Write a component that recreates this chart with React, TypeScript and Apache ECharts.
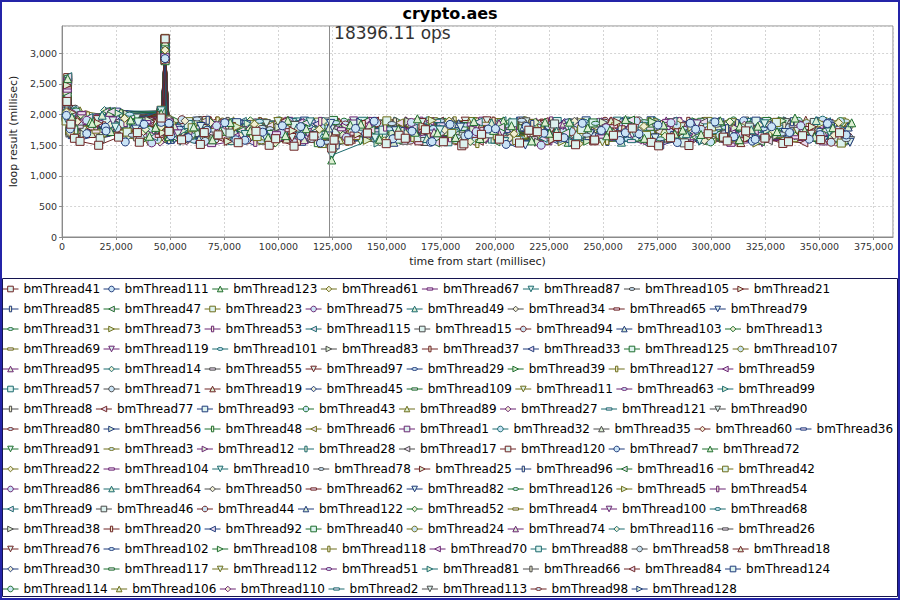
import React, { useEffect, useRef } from 'react';
import * as echarts from 'echarts';

// legend order of the 128 benchmark threads
const THREAD_IDS = [
  41, 111, 123, 61, 67, 87, 105, 21,
  85, 47, 23, 75, 49, 34, 65, 79,
  31, 73, 53, 115, 15, 94, 103, 13,
  69, 119, 101, 83, 37, 33, 125, 107,
  95, 14, 55, 97, 29, 39, 127, 59,
  57, 71, 19, 45, 109, 11, 63, 99,
  8, 77, 93, 43, 89, 27, 121, 90,
  80, 56, 48, 6, 1, 32, 35, 60, 36,
  91, 3, 12, 28, 17, 120, 7, 72,
  22, 104, 10, 78, 25, 96, 16, 42,
  86, 64, 50, 62, 82, 126, 5, 54,
  9, 46, 44, 122, 52, 4, 100, 68,
  38, 20, 92, 40, 24, 74, 116, 26,
  76, 102, 108, 118, 70, 88, 58, 18,
  30, 117, 112, 51, 81, 66, 84, 124,
  114, 106, 110, 2, 113, 98, 128,
];
const THREAD_NAMES = THREAD_IDS.map((n) => 'bmThread' + n);
// number of legend entries on each legend line
const LEGEND_ROW_SIZES = [8, 8, 8, 8, 8, 8, 8, 9, 8, 8, 8, 8, 8, 8, 8, 7];

// first loop of every thread (ms); it ends at the same time from start
const FIRST_LOOP_MS = [
  2214, 1986, 2587, 2043, 2391, 1932, 2156, 2478,
  2071, 2302, 1895, 2535, 2118, 1964, 2426, 2249,
  2015, 2362, 1917, 2619, 2187, 2093, 2448, 1971,
  2276, 2134, 2501, 1948, 2327, 2059, 2405, 2172,
  1903, 2559, 2226, 2011, 2383, 1957, 2290, 2104,
  2463, 2038, 2341, 1924, 2198, 2574, 2082, 2256,
  1979, 2419, 2145, 2027, 2312, 1941, 2493, 2163,
  2237, 2066, 2371, 1912, 2529, 2121, 2284, 1996, 2432,
  2178, 2050, 2397, 1938, 2265, 2603, 2089, 2334,
  1966, 2208, 2457, 2032, 2351, 1919, 2152, 2516,
  2243, 2004, 2378, 2127, 1952, 2298, 2470, 2076,
  2191, 2412, 1929, 2322, 2061, 2545, 2137, 2270,
  1991, 2364, 2113, 2441, 2020, 2231, 1908, 2386,
  2167, 2593, 2055, 2307, 1974, 2219, 2485, 2098,
  2345, 1945, 2254, 2110, 2420, 2036, 2566, 2183,
  2009, 2356, 2142, 2510, 1960, 2281, 2074,
];
// second loop (ms); it ends at first + second
const SECOND_LOOP_MS = [
  1842, 1765, 1958, 1703, 1884, 1921, 1676, 2034,
  1797, 1869, 1732, 2011, 1815, 1748, 1937, 1862,
  1689, 1905, 1774, 2068, 1826, 1711, 1953, 1788,
  1877, 1740, 1994, 1695, 1851, 1807, 1926, 1759,
  1728, 2042, 1833, 1681, 1912, 1770, 1866, 1803,
  1975, 1719, 1888, 1745, 1821, 2051, 1762, 1896,
  1707, 1931, 1794, 1836, 1858, 1684, 1999, 1812,
  1873, 1726, 1942, 1698, 2016, 1781, 1849, 1735, 1906,
  1823, 1757, 1964, 1692, 1880, 2083, 1776, 1917,
  1714, 1855, 1982, 1746, 1901, 1672, 1829, 2025,
  1864, 1738, 1947, 1791, 1701, 1893, 1968, 1753,
  1817, 1934, 1687, 1871, 1799, 2058, 1768, 1909,
  1743, 1925, 1786, 1988, 1722, 1846, 1679, 1916,
  1808, 2037, 1751, 1884, 1716, 1839, 1973, 1783,
  1898, 1698, 1862, 1806, 1951, 1737, 2046, 1820,
  1729, 1913, 1795, 2003, 1708, 1887, 1766,
];

// loop results around the pause near 47 s
const PRE_SPIKE_T = 45800;
const SPIKE_T = 47600;
const POST_SPIKE_T = 49400;
const PRE_SPIKE_MS = [
  1943, 1872, 2016, 1798, 1925, 2061, 1836, 1987,
  1904, 2033, 1857, 1961, 1819, 2008, 1889, 1948,
  2075, 1843, 1916, 1979, 1862, 2041, 1808, 1934,
  1998, 1881, 2052, 1827, 1957, 1895, 2024, 1868,
  1939, 1813, 2069, 1902, 1971, 1851, 2019, 1886,
  1825, 1994, 1877, 2047, 1909, 1841, 1966, 2030,
  1859, 1982, 1921, 1805, 2058, 1893, 1950, 1834,
  2011, 1874, 1945, 1816, 2038, 1898, 1962, 1847, 2003,
  1929, 1866, 2064, 1831, 1976, 1911, 2026, 1853,
  1990, 1822, 1952, 2044, 1879, 1936, 1810, 2071,
  1906, 1983, 1846, 2013, 1869, 1958, 1829, 2036,
  1892, 1969, 1838, 2055, 1915, 1864, 2000, 1802,
  1947, 1885, 2029, 1855, 1973, 1821, 2049, 1897,
  1932, 1861, 2021, 1817, 1985, 1908, 2066, 1848,
  1955, 1875, 1992, 1833, 2040, 1918, 1866, 1977,
  1826, 2006, 1883, 1964, 1844, 2057, 1913,
];
const SPIKE_MS = [
  3236, 2914, 3187, 3052, 2968, 3211, 3119, 2887,
  3165, 3008, 3244, 2941, 3097, 3180, 2872, 3129,
  3018, 3203, 2956, 3141, 3226, 2903, 3074, 3190,
  2935, 3158, 3112, 2989, 3221, 3046, 2879, 3173,
  3102, 2927, 3198, 3061, 3149, 2994, 3230, 2918,
  3084, 3215, 2961, 3136, 3027, 3182, 2896, 3155,
  3209, 2947, 3091, 3168, 2982, 3241, 3069, 2910,
  3194, 3036, 3127, 2953, 3218, 3079, 2891, 3162, 3013,
  3177, 2930, 3106, 3224, 2975, 3147, 3058, 3201,
  2922, 3132, 3185, 3003, 3233, 2944, 3093, 3170,
  3021, 3206, 2967, 3116, 3192, 2908, 3151, 3040,
  3228, 2979, 3088, 3175, 2937, 3139, 3212, 3065,
  2999, 3183, 3124, 2952, 3207, 3033, 3160, 2916,
  3098, 3219, 2972, 3145, 3049, 3196, 2925, 3178,
  3134, 2985, 3213, 3071, 2943, 3166, 3019, 3238,
  2958, 3121, 3189, 3044, 3204, 2899, 3152,
];
const POST_SPIKE_MS = [
  1724, 1856, 1639, 1781, 1902, 1668, 1815, 1747,
  1591, 1869, 1706, 1833, 1652, 1918, 1759, 1685,
  1840, 1612, 1793, 1727, 1881, 1645, 1770, 1896,
  1703, 1829, 1578, 1862, 1736, 1811, 1663, 1921,
  1787, 1694, 1849, 1621, 1764, 1888, 1717, 1806,
  1659, 1874, 1741, 1598, 1822, 1699, 1908, 1776,
  1633, 1851, 1714, 1893, 1680, 1798, 1606, 1843,
  1752, 1627, 1886, 1710, 1825, 1674, 1915, 1733, 1800,
  1690, 1867, 1617, 1784, 1838, 1729, 1655, 1897,
  1762, 1641, 1818, 1700, 1876, 1589, 1808, 1745,
  1861, 1676, 1790, 1911, 1624, 1835, 1718, 1857,
  1668, 1796, 1885, 1739, 1603, 1827, 1755, 1890,
  1711, 1847, 1636, 1773, 1904, 1687, 1819, 1658,
  1879, 1743, 1610, 1864, 1697, 1786, 1923, 1648,
  1816, 1721, 1853, 1595, 1780, 1900, 1663, 1834,
  1769, 1629, 1872, 1707, 1841, 1684, 1802,
];

// sampled steady-state loops: time = GRID_MS[k] + PHASE_MS[thread]
const GRID_MS = [5000, 35000, 65000, 95000, 125000, 155000, 185000, 215000, 245000, 275000, 305000, 335000];
const PHASE_MS = [
  700, 15300, 8200, 23900, 4100, 19600, 27400, 11800,
  2300, 17700, 25100, 6400, 13500, 21800, 9900, 29100,
  1500, 16100, 24300, 7300, 12600, 20400, 28300, 3600,
  10700, 18500, 26200, 5200, 14400, 22700, 400, 9100,
  16900, 25800, 2900, 11300, 19100, 27900, 6900, 14900,
  23300, 1100, 8700, 17300, 26700, 4700, 12200, 21000,
  28800, 7800, 15700, 24700, 3300, 10300, 18100, 29400,
  5600, 13100, 22300, 900, 9500, 16500, 25500, 2000, 20100,
  12900, 27100, 6000, 14000, 21400, 1800, 10000, 18900,
  26000, 4400, 11600, 19900, 28000, 7000, 15500, 23500,
  3000, 13300, 20800, 8500, 17000, 24000, 500, 11000,
  18300, 27700, 5900, 15000, 22000, 2600, 9700, 16300,
  25300, 6700, 12400, 20600, 29000, 4200, 14600, 23100,
  1300, 10500, 17900, 26400, 7500, 13800, 21600, 3800,
  28600, 8900, 16700, 24500, 200, 11500, 19400, 27200,
  5300, 14200, 22500, 1600, 10900, 18700, 26900,
];
const BAND_MS = [
  [1612, 1548, 1705, 1498, 1583, 1662, 1521, 1744, 1570, 1489, 1631, 1556],
  [1731, 1652, 1588, 1803, 1690, 1547, 1768, 1615, 1702, 1859, 1594, 1672],
  [1884, 1790, 1725, 1656, 1832, 1711, 1609, 1877, 1748, 1683, 1812, 1739],
  [1937, 1618, 1842, 1759, 1571, 1895, 1686, 1523, 1806, 1647, 1723, 1868],
  [2021, 1875, 1502, 1694, 1760, 1585, 1837, 1712, 1640, 1781, 1507, 1628],
  [1794, 1563, 1673, 1880, 1615, 1746, 1558, 1808, 1697, 1572, 1849, 1715],
  [1663, 1928, 1789, 1547, 1852, 1638, 1906, 1664, 1529, 1826, 1683, 1591],
  [1856, 1701, 1561, 1735, 1679, 1813, 1745, 1590, 1874, 1716, 1612, 1799],
  [1574, 1846, 1907, 1611, 1504, 1724, 1681, 1838, 1621, 1507, 1768, 1883],
  [2048, 1612, 1739, 1866, 1746, 1536, 1794, 1702, 1911, 1629, 1556, 1745],
  [1713, 1784, 1640, 1526, 1897, 1692, 1577, 1756, 1660, 1798, 1871, 1534],
  [1906, 1537, 1818, 1693, 1628, 1871, 1721, 1499, 1785, 1866, 1640, 1817],
  [1989, 1721, 1574, 1782, 1810, 1608, 1863, 1727, 1549, 1688, 1752, 1903],
  [1648, 1897, 1762, 1629, 1551, 1749, 1617, 1891, 1730, 1575, 1824, 1661],
  [1825, 1653, 1897, 1744, 1688, 1531, 1766, 1644, 1808, 1741, 1595, 1778],
  [1762, 1805, 1619, 1855, 1735, 1794, 1502, 1684, 1617, 1864, 1706, 1546],
  [2073, 1575, 1706, 1598, 1868, 1663, 1829, 1771, 1856, 1602, 1789, 1689],
  [1694, 1862, 1801, 1716, 1578, 1904, 1648, 1555, 1702, 1793, 1534, 1855],
  [1869, 1743, 1546, 1888, 1795, 1621, 1732, 1817, 1583, 1679, 1872, 1612],
  [1951, 1638, 1851, 1672, 1636, 1779, 1877, 1612, 1760, 1894, 1668, 1735],
  [1607, 1781, 1697, 1822, 1715, 1560, 1685, 1846, 1654, 1537, 1795, 1871],
  [1778, 1916, 1583, 1609, 1866, 1725, 1593, 1722, 1895, 1757, 1623, 1548],
  [1843, 1596, 1768, 1781, 1547, 1852, 1799, 1656, 1592, 1816, 1716, 1797],
  [1996, 1760, 1869, 1538, 1753, 1689, 1559, 1873, 1735, 1646, 1880, 1653],
  [1722, 1829, 1631, 1862, 1619, 1804, 1848, 1600, 1839, 1585, 1755, 1829],
  [1895, 1683, 1741, 1702, 1887, 1573, 1711, 1790, 1678, 1847, 1539, 1712],
  [2005, 1566, 1889, 1645, 1766, 1736, 1620, 1888, 1518, 1719, 1801, 1588],
  [1681, 1907, 1612, 1793, 1682, 1888, 1765, 1548, 1874, 1608, 1669, 1874],
  [1815, 1724, 1805, 1567, 1837, 1646, 1891, 1695, 1751, 1889, 1745, 1636],
  [1933, 1648, 1546, 1846, 1564, 1770, 1538, 1827, 1627, 1764, 1856, 1765],
  [1748, 1879, 1725, 1675, 1904, 1598, 1806, 1743, 1863, 1531, 1621, 1694],
  [1869, 1593, 1878, 1753, 1711, 1855, 1667, 1575, 1699, 1829, 1782, 1852],
  [2036, 1812, 1598, 1590, 1829, 1710, 1851, 1859, 1793, 1654, 1578, 1569],
  [1659, 1755, 1834, 1892, 1592, 1819, 1574, 1685, 1547, 1883, 1704, 1734],
  [1801, 1921, 1689, 1722, 1784, 1541, 1735, 1612, 1825, 1579, 1854, 1817],
  [1917, 1634, 1802, 1625, 1656, 1869, 1897, 1769, 1669, 1801, 1627, 1681],
  [1766, 1776, 1557, 1804, 1871, 1671, 1602, 1896, 1716, 1694, 1766, 1893],
  [1888, 1869, 1743, 1549, 1703, 1797, 1781, 1564, 1883, 1746, 1898, 1559],
  [1978, 1557, 1894, 1783, 1562, 1627, 1526, 1731, 1574, 1866, 1587, 1762],
  [1710, 1708, 1636, 1869, 1810, 1888, 1740, 1822, 1742, 1614, 1733, 1830],
  [1850, 1838, 1780, 1656, 1745, 1555, 1864, 1653, 1806, 1782, 1812, 1628],
  [2087, 1621, 1562, 1738, 1893, 1740, 1649, 1790, 1638, 1538, 1674, 1786],
  [1690, 1891, 1874, 1601, 1597, 1812, 1813, 1581, 1897, 1829, 1542, 1907],
  [1832, 1686, 1663, 1828, 1676, 1590, 1709, 1872, 1681, 1703, 1828, 1697],
  [1958, 1790, 1815, 1701, 1849, 1701, 1578, 1700, 1769, 1889, 1715, 1577],
  [1744, 1562, 1707, 1885, 1641, 1858, 1887, 1646, 1553, 1612, 1867, 1742],
  [1876, 1854, 1593, 1572, 1808, 1631, 1756, 1851, 1847, 1776, 1595, 1864],
  [2018, 1735, 1849, 1776, 1535, 1767, 1632, 1543, 1716, 1570, 1741, 1651],
  [1635, 1903, 1755, 1658, 1879, 1565, 1844, 1765, 1594, 1855, 1805, 1799],
  [1787, 1629, 1621, 1897, 1713, 1896, 1564, 1885, 1790, 1681, 1639, 1536],
  [1910, 1796, 1867, 1563, 1655, 1681, 1795, 1612, 1868, 1819, 1892, 1709],
  [1827, 1668, 1739, 1797, 1866, 1833, 1697, 1726, 1650, 1553, 1753, 1886],
  [2061, 1883, 1587, 1704, 1588, 1609, 1869, 1857, 1739, 1739, 1604, 1622],
  [1703, 1549, 1823, 1856, 1764, 1773, 1603, 1579, 1823, 1896, 1826, 1793],
  [1858, 1812, 1694, 1629, 1827, 1896, 1741, 1804, 1567, 1623, 1678, 1841],
  [1942, 1706, 1852, 1764, 1603, 1646, 1881, 1682, 1787, 1772, 1868, 1573],
  [1778, 1893, 1571, 1893, 1718, 1549, 1659, 1873, 1891, 1660, 1532, 1735],
  [1895, 1591, 1781, 1676, 1874, 1806, 1825, 1625, 1691, 1843, 1790, 1869],
  [2012, 1770, 1648, 1541, 1695, 1722, 1567, 1752, 1640, 1580, 1702, 1604],
  [1668, 1877, 1898, 1817, 1583, 1865, 1785, 1839, 1806, 1719, 1853, 1822],
  [1812, 1615, 1720, 1731, 1845, 1593, 1891, 1571, 1740, 1884, 1629, 1688],
  [1925, 1748, 1586, 1858, 1772, 1757, 1690, 1716, 1893, 1628, 1764, 1908],
  [1741, 1857, 1811, 1589, 1626, 1887, 1557, 1868, 1585, 1769, 1884, 1563],
  [1883, 1702, 1673, 1720, 1893, 1643, 1803, 1697, 1754, 1837, 1585, 1774],
  [2079, 1833, 1874, 1885, 1743, 1838, 1731, 1569, 1866, 1565, 1699, 1840],
  [1697, 1628, 1742, 1672, 1569, 1776, 1851, 1801, 1627, 1702, 1817, 1615],
  [1840, 1889, 1556, 1796, 1835, 1560, 1625, 1853, 1713, 1855, 1656, 1895],
  [1963, 1675, 1825, 1601, 1796, 1707, 1877, 1630, 1880, 1631, 1784, 1711],
  [1759, 1818, 1781, 1838, 1611, 1895, 1599, 1773, 1557, 1793, 1858, 1590],
  [1901, 1595, 1633, 1755, 1850, 1787, 1769, 1888, 1820, 1877, 1573, 1760],
  [2029, 1746, 1903, 1542, 1734, 1658, 1837, 1703, 1688, 1676, 1729, 1834],
  [1726, 1911, 1692, 1887, 1651, 1876, 1661, 1816, 1779, 1552, 1897, 1651],
  [1871, 1660, 1796, 1715, 1884, 1611, 1897, 1547, 1857, 1824, 1642, 1783],
  [1985, 1802, 1574, 1825, 1770, 1824, 1588, 1877, 1596, 1747, 1800, 1866],
  [1716, 1869, 1859, 1624, 1676, 1740, 1812, 1733, 1734, 1895, 1717, 1602],
  [1851, 1613, 1728, 1868, 1824, 1575, 1728, 1648, 1892, 1617, 1871, 1745],
  [1947, 1785, 1645, 1766, 1581, 1899, 1658, 1897, 1679, 1786, 1577, 1883],
  [1792, 1853, 1889, 1560, 1867, 1684, 1882, 1601, 1809, 1866, 1760, 1676],
  [1904, 1586, 1767, 1806, 1712, 1802, 1775, 1791, 1561, 1659, 1851, 1799],
  [2054, 1722, 1616, 1693, 1893, 1626, 1554, 1721, 1840, 1738, 1629, 1567],
  [1680, 1884, 1835, 1877, 1638, 1849, 1843, 1864, 1717, 1888, 1826, 1832],
  [1829, 1639, 1703, 1588, 1778, 1721, 1637, 1575, 1873, 1575, 1695, 1720],
  [1970, 1827, 1877, 1741, 1853, 1597, 1862, 1838, 1626, 1817, 1886, 1888],
  [1767, 1719, 1604, 1845, 1590, 1883, 1704, 1689, 1782, 1682, 1737, 1640],
  [1890, 1895, 1786, 1658, 1812, 1753, 1811, 1883, 1848, 1859, 1593, 1810],
  [2040, 1604, 1843, 1893, 1719, 1634, 1593, 1611, 1691, 1725, 1864, 1576],
  [1732, 1778, 1669, 1570, 1885, 1867, 1869, 1815, 1883, 1601, 1772, 1871],
  [1866, 1871, 1816, 1786, 1647, 1680, 1739, 1666, 1587, 1849, 1611, 1757],
  [1938, 1651, 1729, 1833, 1763, 1892, 1627, 1896, 1764, 1797, 1849, 1693],
  [1775, 1823, 1888, 1612, 1893, 1612, 1899, 1570, 1852, 1632, 1706, 1882],
  [1921, 1707, 1580, 1879, 1598, 1773, 1806, 1757, 1619, 1870, 1879, 1582],
  [1995, 1888, 1855, 1726, 1829, 1851, 1567, 1848, 1890, 1713, 1640, 1829],
  [1706, 1594, 1711, 1871, 1732, 1665, 1749, 1629, 1725, 1888, 1790, 1739],
  [1848, 1857, 1899, 1593, 1855, 1880, 1883, 1781, 1799, 1570, 1862, 1637],
  [1966, 1741, 1627, 1812, 1668, 1599, 1651, 1893, 1657, 1809, 1605, 1897],
  [1754, 1890, 1763, 1889, 1896, 1828, 1834, 1613, 1878, 1687, 1767, 1778],
  [1885, 1636, 1850, 1660, 1606, 1721, 1715, 1838, 1598, 1891, 1890, 1613],
  [2008, 1813, 1678, 1755, 1881, 1885, 1597, 1703, 1810, 1624, 1657, 1864],
  [1693, 1869, 1894, 1877, 1629, 1612, 1881, 1861, 1742, 1837, 1843, 1702],
  [1837, 1582, 1613, 1623, 1808, 1797, 1761, 1583, 1886, 1752, 1720, 1893],
  [1953, 1868, 1795, 1862, 1701, 1870, 1628, 1824, 1633, 1874, 1887, 1667],
  [1779, 1717, 1869, 1709, 1875, 1655, 1898, 1665, 1869, 1661, 1597, 1826],
  [1902, 1901, 1645, 1897, 1593, 1894, 1742, 1880, 1713, 1896, 1832, 1728],
  [2066, 1629, 1777, 1588, 1846, 1588, 1866, 1734, 1899, 1595, 1755, 1895],
  [1725, 1846, 1898, 1818, 1738, 1806, 1670, 1619, 1771, 1863, 1880, 1618],
  [1860, 1784, 1580, 1686, 1872, 1753, 1892, 1856, 1611, 1716, 1646, 1853],
  [1977, 1611, 1838, 1895, 1612, 1867, 1616, 1896, 1855, 1791, 1899, 1791],
  [1789, 1898, 1707, 1630, 1897, 1641, 1853, 1598, 1692, 1883, 1677, 1695],
  [1912, 1733, 1885, 1868, 1783, 1897, 1784, 1779, 1884, 1602, 1859, 1880],
  [1744, 1879, 1640, 1731, 1620, 1634, 1886, 1645, 1638, 1839, 1786, 1605],
  [1889, 1646, 1854, 1880, 1890, 1876, 1599, 1887, 1773, 1749, 1616, 1866],
  [2032, 1823, 1734, 1605, 1667, 1764, 1818, 1702, 1897, 1881, 1891, 1748],
  [1719, 1892, 1898, 1846, 1851, 1899, 1722, 1864, 1614, 1675, 1724, 1890],
  [1852, 1700, 1600, 1779, 1631, 1602, 1897, 1610, 1869, 1891, 1868, 1647],
  [1961, 1869, 1881, 1897, 1897, 1822, 1657, 1889, 1742, 1623, 1599, 1829],
  [1738, 1615, 1767, 1650, 1761, 1884, 1869, 1762, 1889, 1859, 1880, 1883],
  [1878, 1891, 1893, 1893, 1610, 1668, 1795, 1633, 1628, 1728, 1807, 1612],
  [2000, 1762, 1627, 1819, 1888, 1895, 1633, 1898, 1874, 1897, 1646, 1898],
  [1701, 1855, 1888, 1611, 1808, 1703, 1888, 1806, 1809, 1652, 1894, 1727],
  [1846, 1673, 1795, 1881, 1895, 1893, 1740, 1658, 1656, 1889, 1766, 1859],
  [1936, 1893, 1861, 1708, 1644, 1637, 1894, 1897, 1898, 1775, 1830, 1633],
  [1763, 1743, 1601, 1897, 1876, 1862, 1681, 1737, 1749, 1870, 1896, 1890],
  [1899, 1886, 1898, 1750, 1722, 1899, 1899, 1884, 1890, 1614, 1715, 1782],
  [1822, 1569, 1742, 1596, 1851, 1779, 1663, 1829, 1581, 1706, 1874, 1548],
  [1967, 1706, 1824, 1863, 1598, 1650, 1822, 1547, 1762, 1835, 1628, 1795],
  [1694, 1848, 1561, 1727, 1784, 1868, 1587, 1760, 1843, 1573, 1752, 1684],
  [1880, 1597, 1813, 1672, 1905, 1540, 1736, 1885, 1617, 1808, 1590, 1851],
  [2003, 1781, 1659, 1887, 1631, 1752, 1893, 1640, 1723, 1877, 1706, 1574],
];

// extra loops of the three threads drawn on top
const TOP_DETAIL_T = [
  8300, 16900, 26100, 34800, 55200, 63900, 72100, 81400, 89600, 98700,
  107200, 116300, 132500, 141100, 149800, 158600, 167900, 176200, 184700, 193800,
  202100, 211400, 219600, 228900, 237300, 246100, 254800, 263500, 272300, 281200,
  289700, 298600, 307400, 315900, 324800, 333100, 342200, 350600, 359300,
];
const TOP_DETAIL_THREADS = ['bmThread41', 'bmThread111', 'bmThread123'];
const TOP_DETAIL_OFFSET_MS = [0, 3100, 5600];
const TOP_DETAIL_MS = [
  [1562, 1498, 1631, 1705, 1587, 1512, 1668, 1540, 1726, 1605, 1483, 1649, 1571, 1698, 1524, 1613, 1752, 1556, 1490, 1677,
   1598, 1535, 1719, 1642, 1507, 1583, 1661, 1779, 1546, 1620, 1494, 1687, 1569, 1733, 1615, 1528, 1654, 1591, 1703],
  [1688, 1794, 1552, 1841, 1623, 1745, 1866, 1580, 1712, 1817, 1649, 1536, 1773, 1890, 1604, 1728, 1558, 1839, 1671, 1763,
   1512, 1806, 1695, 1621, 1857, 1739, 1577, 1684, 1828, 1543, 1760, 1879, 1638, 1566, 1801, 1706, 1597, 1852, 1667],
  [1856, 1723, 1912, 1645, 1798, 1587, 1871, 1736, 1624, 1905, 1769, 1680, 1843, 1597, 1758, 1931, 1702, 1626, 1887, 1741,
   1818, 1569, 1695, 1876, 1784, 1653, 1920, 1611, 1829, 1747, 1675, 1898, 1590, 1810, 1722, 1943, 1634, 1786, 1865],
];

// short dip right after the marker
const DIP_T = 124600;
const DIP_THREADS = ['bmThread123', 'bmThread41', 'bmThread87'];
const DIP_MS = [1258, 1452, 1335];

const MARKER_T = 123400;
const MARKER_LABEL = '18396.11 ops';
const X_MAX = 384000;
const Y_MAX = 3446;

const OUTLINE = ['#6e2424', '#1f3a7a', '#1f6e2e', '#6e6e1c', '#6a2572', '#1c6a6e', '#4a4a4a'];
const FILL = ['#dcf2ee', '#cae4f6', '#dcefd2', '#f1efd3', '#eddcf0'];
const SHAPES = [
  'rect',
  'circle',
  'triangle',
  'diamond',
  'path://M0,0M10,10M0,3L10,3L10,7L0,7Z',
  'path://M0,0L10,0L5,10Z',
  'path://M0,0M10,10M0,5A5,2.6,0,1,1,10,5A5,2.6,0,1,1,0,5Z',
  'path://M0,0L10,5L0,10Z',
  'path://M0,0M10,10M3,0L7,0L7,10L3,10Z',
  'path://M10,0L0,5L10,10Z',
];

const FONT = 'DejaVu Sans';
const fmt = (v: number) => v.toLocaleString('en-US');
const outlineOf = (i: number) => OUTLINE[i % OUTLINE.length];
const fillOf = (i: number) => FILL[i % FILL.length];

function buildSeries() {
  const list: any[] = [];
  for (let i = THREAD_NAMES.length - 1; i >= 0; i--) {
    const name = THREAD_NAMES[i];
    const t1 = FIRST_LOOP_MS[i];
    const pts: number[][] = [[t1, FIRST_LOOP_MS[i]], [t1 + SECOND_LOOP_MS[i], SECOND_LOOP_MS[i]]];
    GRID_MS.forEach((t, k) => pts.push([t + PHASE_MS[i], BAND_MS[i][k]]));
    pts.push([PRE_SPIKE_T, PRE_SPIKE_MS[i]], [SPIKE_T, SPIKE_MS[i]], [POST_SPIKE_T, POST_SPIKE_MS[i]]);
    const d = DIP_THREADS.indexOf(name);
    if (d >= 0) pts.push([DIP_T, DIP_MS[d]]);
    const td = TOP_DETAIL_THREADS.indexOf(name);
    if (td >= 0) {
      TOP_DETAIL_T.forEach((t, k) => {
        const v = TOP_DETAIL_MS[td][k];
        if (v != null) pts.push([t + TOP_DETAIL_OFFSET_MS[td], v]);
      });
    }
    pts.sort((a, b) => a[0] - b[0]);
    const outline = outlineOf(i);
    const s: any = {
      type: 'line',
      name,
      data: pts,
      symbol: SHAPES[i % SHAPES.length],
      symbolSize: 8,
      showSymbol: true,
      silent: true,
      lineStyle: { width: 1, color: outline },
      itemStyle: { color: fillOf(i), borderColor: outline, borderWidth: 1 },
      emphasis: { disabled: true },
    };
    if (i === 0) {
      s.markLine = {
        silent: true,
        symbol: ['none', 'none'],
        label: { show: false },
        lineStyle: { color: '#8c8c8c', width: 1, type: 'solid' },
        data: [{ xAxis: MARKER_T }],
      };
    }
    list.push(s);
  }
  return list;
}

function buildLegends() {
  const legends: any[] = [];
  let start = 0;
  LEGEND_ROW_SIZES.forEach((size, r) => {
    const idx = THREAD_NAMES.slice(start, start + size).map((_, j) => start + j);
    legends.push({
      type: 'plain',
      orient: 'horizontal',
      left: 2,
      top: 283 + r * 20,
      padding: 0,
      itemWidth: 16,
      itemHeight: 7,
      itemGap: 3,
      selectedMode: false,
      textStyle: { fontFamily: FONT, fontSize: 12, color: '#000' },
      data: idx.map((i) => ({
        name: THREAD_NAMES[i],
        itemStyle: { color: fillOf(i), borderColor: outlineOf(i), borderWidth: 1 },
        lineStyle: { color: outlineOf(i), width: 1 },
      })),
    });
    start += size;
  });
  return legends;
}

const frame = [
  { type: 'rect', id: 'legendBox', shape: { x: 2.5, y: 278.5, width: 895, height: 318 }, style: { fill: 'none', stroke: '#141450', lineWidth: 1 }, z: 100 },
  { type: 'rect', id: 'outer', shape: { x: 1, y: 1, width: 898, height: 598 }, style: { fill: 'none', stroke: '#2424a8', lineWidth: 2 }, z: 101 },
];

export default function App() {
  const ref = useRef<HTMLDivElement>(null);
  useEffect(() => {
    const chart = echarts.init(ref.current!, null, { renderer: 'svg' });
    const axisLabel = { fontFamily: FONT, fontSize: 9.5, color: '#333', formatter: fmt, showMaxLabel: false };
    const nameStyle = { fontFamily: FONT, fontSize: 11, color: '#222' };
    chart.setOption({
      animation: false,
      backgroundColor: '#ffffff',
      title: {
        text: 'crypto.aes',
        left: 'center',
        top: 0,
        textStyle: { fontFamily: FONT, fontSize: 16, fontWeight: 'bold', color: '#000' },
      },
      grid: { left: 62, top: 26, right: 7, bottom: 363, show: true, borderColor: '#8a8a8a', borderWidth: 1, backgroundColor: '#fff' },
      xAxis: {
        type: 'value',
        min: 0,
        max: X_MAX,
        interval: 25000,
        name: 'time from start (millisec)',
        nameLocation: 'middle',
        nameGap: 19,
        nameTextStyle: nameStyle,
        axisLine: { show: true, lineStyle: { color: '#8a8a8a' } },
        axisTick: { show: true, length: 3, lineStyle: { color: '#8a8a8a' } },
        axisLabel: { ...axisLabel, margin: 4 },
        splitLine: { show: true, lineStyle: { color: '#d4d4d4', type: [2, 2] } },
      },
      yAxis: {
        type: 'value',
        min: 0,
        max: Y_MAX,
        interval: 500,
        name: 'loop result (millisec)',
        nameLocation: 'middle',
        nameGap: 38,
        nameTextStyle: nameStyle,
        axisLine: { show: true, lineStyle: { color: '#8a8a8a' } },
        axisTick: { show: true, length: 3, lineStyle: { color: '#8a8a8a' } },
        axisLabel: { ...axisLabel, margin: 5 },
        splitLine: { show: true, lineStyle: { color: '#d4d4d4', type: [2, 2] } },
      },
      legend: buildLegends(),
      graphic: frame,
      series: buildSeries(),
    });
    const p = chart.convertToPixel({ xAxisIndex: 0, yAxisIndex: 0 }, [MARKER_T, Y_MAX]) as number[];
    chart.setOption({
      graphic: [
        ...frame,
        {
          type: 'text',
          id: 'ops',
          x: p[0] + 5,
          y: p[1] - 2,
          z: 50,
          style: { text: MARKER_LABEL, fill: '#333', font: `17px ${FONT}`, align: 'left', verticalAlign: 'top' },
        },
      ],
    });
    return () => chart.dispose();
  }, []);
  return <div ref={ref} style={{ position: 'absolute', left: 0, top: 0, width: 900, height: 600 }} />;
}
